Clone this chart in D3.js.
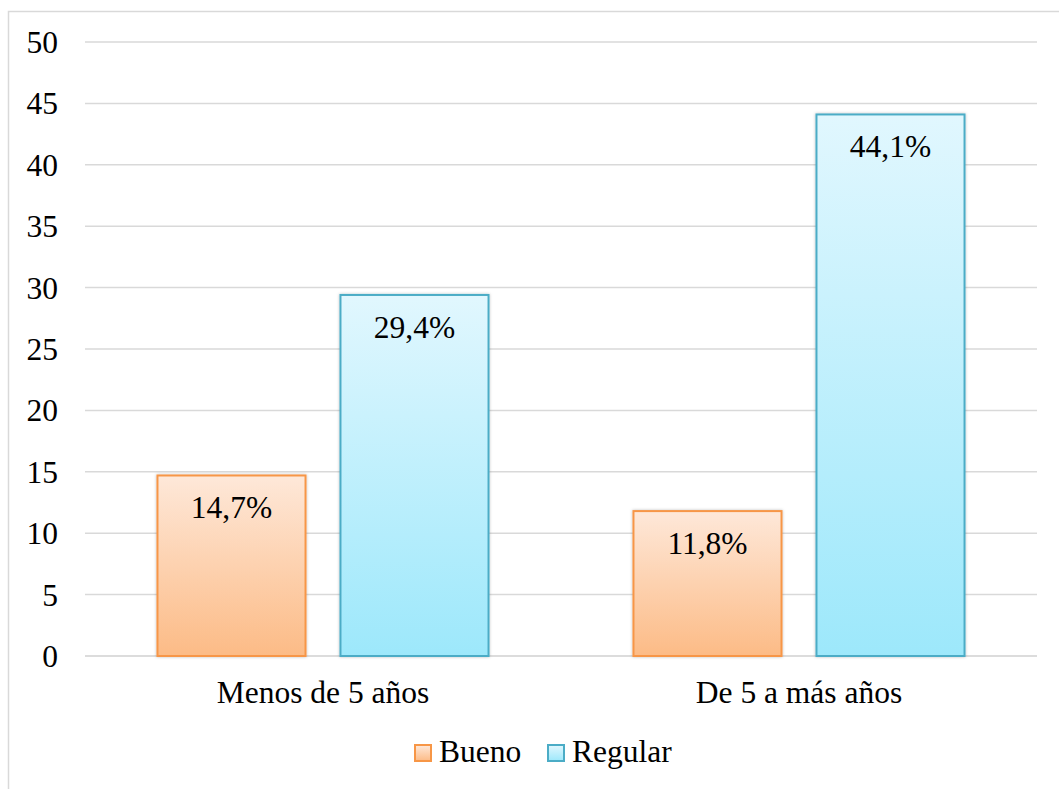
<!DOCTYPE html>
<html>
<head>
<meta charset="utf-8">
<script src="https://cdn.jsdelivr.net/npm/d3@7/dist/d3.min.js"></script>
<style>
  html, body { margin: 0; padding: 0; background: #fff; }
  svg { display: block; }
</style>
</head>
<body>
<svg id="chart" width="1059" height="789"></svg>
<script>
// Categories, series and values
const categories = ["Menos de 5 años", "De 5 a más años"];
const seriesNames = ["Bueno", "Regular"];
const bueno = [14.7, 11.8];
const regular = [29.4, 44.1];
const yTicks = [0, 5, 10, 15, 20, 25, 30, 35, 40, 45, 50];

const seriesValues = { Bueno: bueno, Regular: regular };
const seriesStyle = {
  Bueno:   { top: "#fee8d9", bottom: "#fcbb86", stroke: "#f79646" },
  Regular: { top: "#e1f7fe", bottom: "#9de8fb", stroke: "#4bacc6" }
};

const FONT = "'Liberation Serif', 'Times New Roman', serif";
const fontSize = 31.5;

const svg = d3.select("#chart").style("font-family", FONT);
const W = 1059, H = 789;

// Chart area frame (runs past the right and bottom edges)
svg.append("rect")
  .attr("x", 8.5).attr("y", 11.5)
  .attr("width", W + 20).attr("height", H + 20)
  .attr("fill", "#fff")
  .attr("stroke", "#d9d9d9").attr("stroke-width", 1.5);

const plot = { left: 85, right: 1037, top: 42, bottom: 656 };

const y = d3.scaleLinear().domain([0, 50]).range([plot.bottom, plot.top]);
const x0 = d3.scaleBand().domain(categories).range([plot.left, plot.right]).padding(0);
const x1 = d3.scaleBand().domain(seriesNames)
  .range([0, x0.bandwidth()])
  .paddingInner(0.191).paddingOuter(0.396);

const defs = svg.append("defs");
seriesNames.forEach(s => {
  const g = defs.append("linearGradient")
    .attr("id", "grad-" + s).attr("x1", 0).attr("y1", 0).attr("x2", 0).attr("y2", 1);
  g.append("stop").attr("offset", "0%").attr("stop-color", seriesStyle[s].top);
  g.append("stop").attr("offset", "100%").attr("stop-color", seriesStyle[s].bottom);
});
const shadow = defs.append("filter").attr("id", "barShadow")
  .attr("x", "-10%").attr("y", "-10%").attr("width", "120%").attr("height", "120%");
shadow.append("feDropShadow")
  .attr("dx", 0).attr("dy", 0).attr("stdDeviation", 1.8)
  .attr("flood-color", "#000").attr("flood-opacity", 0.25);

// Horizontal gridlines
svg.append("g")
  .selectAll("line")
  .data(yTicks)
  .join("line")
  .attr("x1", plot.left).attr("x2", plot.right)
  .attr("y1", d => y(d)).attr("y2", d => y(d))
  .attr("stroke", d => d === 0 ? "#d0d0d0" : "#d9d9d9")
  .attr("stroke-width", 1.5);

// Y axis labels
const yAxis = d3.axisLeft(y).tickValues(yTicks).tickSize(0).tickPadding(0).tickFormat(d3.format("d"));
const yg = svg.append("g").attr("transform", "translate(58,0)").call(yAxis);
yg.attr("font-family", null).attr("font-size", null);
yg.select(".domain").remove();
yg.selectAll("text")
  .style("font-family", FONT)
  .style("font-size", fontSize + "px")
  .attr("fill", "#000")
  .attr("dy", "0.33em");

// X axis labels
const xAxis = d3.axisBottom(x0).tickSize(0).tickPadding(0);
const xg = svg.append("g").attr("transform", `translate(0,${plot.bottom})`).call(xAxis);
xg.attr("font-family", null).attr("font-size", null);
xg.select(".domain").remove();
xg.selectAll("text")
  .style("font-family", FONT)
  .style("font-size", fontSize + "px")
  .attr("fill", "#000")
  .attr("y", 47).attr("dy", 0);

// Bars with value labels
const groups = svg.append("g")
  .selectAll("g")
  .data(categories)
  .join("g")
  .attr("transform", d => `translate(${x0(d)},0)`);

const barData = i => seriesNames.map(s => ({ series: s, value: seriesValues[s][i] }));

groups.each(function(c, i) {
  const g = d3.select(this);
  const data = barData(i);
  g.selectAll("rect")
    .data(data)
    .join("rect")
    .attr("x", d => x1(d.series))
    .attr("y", d => y(d.value))
    .attr("width", x1.bandwidth())
    .attr("height", d => y(0) - y(d.value))
    .attr("fill", d => `url(#grad-${d.series})`)
    .attr("stroke", d => seriesStyle[d.series].stroke)
    .attr("stroke-width", 2)
    .attr("filter", "url(#barShadow)");
  g.selectAll("text.lbl")
    .data(data)
    .join("text")
    .attr("class", "lbl")
    .attr("x", d => x1(d.series) + x1.bandwidth() / 2)
    .attr("y", d => y(d.value) + 43)
    .attr("text-anchor", "middle")
    .style("font-family", FONT)
    .style("font-size", fontSize + "px")
    .attr("fill", "#000")
    .text(d => d3.format(".1f")(d.value).replace(".", ",") + "%");
});

// Legend
const legend = svg.append("g").attr("transform", "translate(0,762)");
const items = [
  { name: "Bueno", x: 414 },
  { name: "Regular", x: 547 }
];
const li = legend.selectAll("g").data(items).join("g")
  .attr("transform", d => `translate(${d.x},0)`);
li.append("rect")
  .attr("x", 1).attr("y", -17)
  .attr("width", 16).attr("height", 16)
  .attr("fill", d => `url(#grad-${d.name})`)
  .attr("stroke", d => seriesStyle[d.name].stroke)
  .attr("stroke-width", 2);
li.append("text")
  .attr("x", 25).attr("y", 0)
  .style("font-family", FONT)
  .style("font-size", fontSize + "px")
  .attr("fill", "#000")
  .text(d => d.name);
</script>
</body>
</html>
